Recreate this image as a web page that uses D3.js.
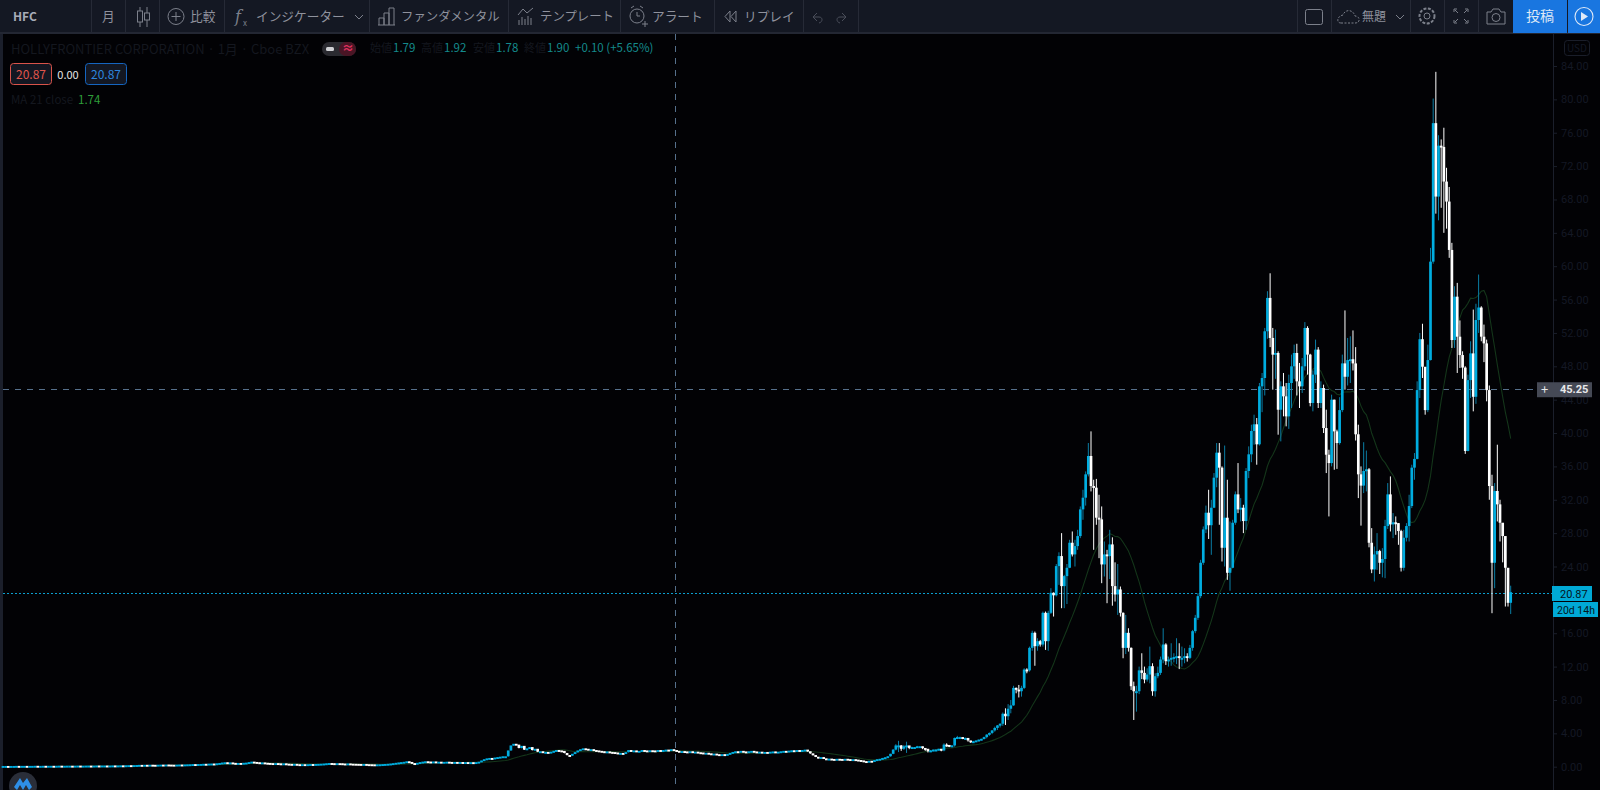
<!DOCTYPE html>
<html><head><meta charset="utf-8">
<style>html,body{margin:0;padding:0;background:#020205;overflow:hidden}svg{display:block}text{font-family:"Noto Sans CJK JP","Noto Sans",sans-serif}</style>
<script src="https://cdn.jsdelivr.net/npm/d3@7/dist/d3.min.js"></script></head><body><svg id="c" width="1600" height="790"></svg>
<script>
// Flat early history: monthly closes
const earlyCloses=[.04,.04,.03,.04,.04,.05,.04,.05,.05,.04,.05,.05,.06,.05,.05,.06,.05,.06,.06,.05,.06,.07,.06,.06,.07,.07,.06,.07,.08,.07,.07,.08,.08,.07,.08,.09,.08,.09,.09,.08,.09,.10,.09,.10,.11,.10,.12,.13,.12,.14,.15,.17,.16,.18,.17,.19,.18,.17,.19,.20,.19,.21,.20,.19,.18,.20,.21,.20,.22,.23,.24,.26,.25,.27,.28,.30,.29,.32,.33,.31,.36,.40,.45,.48,.43,.46,.41,.38,.40,.38,.42,.44,.50,.56,.52,.48,.44,.46,.42,.40,.38,.36,.38,.35,.33,.35,.31,.29,.27,.29,.25,.23,.25,.24,.25,.27,.26,.28,.29,.31,.33,.36,.39,.37,.35,.37,.36,.33,.32,.34,.31,.30,.29,.28,.27,.28,.25,.24,.23,.22,.23,.24,.26,.28,.30,.33,.37,.42,.46,.50,.54,.60,.52,.38,.34,.42,.50,.56,.60,.57,.56,.58,.54,.55,.52,.53,.55,.52,.50,.52,.50,.51,.48,.50,.47,.49,.48,.50,.55,.70,.85,.95,1.0,.98,1.05,1.1,1.15,1.2,1.2,1.9,2.5,2.7,2.6,2.2,2.45,2.0,2.15,2.3,1.95,2.1,1.75,1.8,1.7,1.72,1.68,1.75,1.85,1.95,1.9,1.85,1.6,1.35,1.3,1.5,1.7,1.9,2.05,2.15,2.1,2.0,2.05,1.95,1.9,1.85,1.8,1.75,1.78,1.72,1.7,1.65,1.58,1.6,1.55,1.7,1.95,1.85,1.9,1.82,1.85,1.95,1.9,1.85,1.92,1.9,1.88,1.95,1.9,1.95,2.0,1.92,2.05,1.95,1.85,1.8,1.82,1.78,1.75,1.8,1.72,1.75,1.68,1.65,1.6,1.62,1.55,1.5,1.52,1.45,1.42,1.45,1.4,1.48,1.6,1.72,1.8,1.75,1.85,1.78,1.72,1.8,1.85,1.78,1.72,1.75,1.68,1.72,1.7,1.75,1.78,1.72,1.75,1.8,1.85,1.82,1.88,1.92,1.85,1.95,1.9,1.95,2.0,1.8,1.55,1.35,1.15,1.0,1.1,.95,.9,.92,.88,.85,.9,.88,.85,.9,.86,.82,.85,.8,.75,.7,.62,.58,.66,.6,.75,.85,.9];
// Active period: monthly close / high / low
const closes=[1.0,1.08,1.2,1.5,2.0,2.5,2.5,2.1,2.4,2.5,2.2,2.3,2.3,2.4,2.4,2.2,2.1,1.8,1.9,2.0,2.0,2.1,1.9,2.6,2.56,2.5,2.5,3.4,3.5,3.5,3.4,3.4,3.1,3.0,3.0,3.1,3.2,3.3,3.5,3.8,4.0,4.3,4.6,4.9,5.1,6.3,6.0,6.9,7.3,
9.4,9.2,9.0,9.4,11.6,11.5,14.2,16,14.4,15,14.6,18.4,15,18.4,20.8,20.5,24,25.2,21.6,22.8,23.8,26.8,25.4,26.4,27.6,30.8,32.2,35,37.2,33.6,33.4,29.8,29.6,24.2,25.4,25.2,26.6,21.6,20.6,21.2,18.4,14.2,16,14.2,9.6,9,9,11.5,11.2,10.4,11,12,9,10.8,11.2,12.8,14.6,12.6,12.8,13,13.1,13.2,13,13,13.2,13,14.2,16.2,17.8,20.4,24.4,28.4,30.4,28.9,31,34.6,37.6,35.8,26.2,29.8,23.2,23.8,29.2,32.6,30.8,31,29.4,35.4,37.4,40.2,41,38.6,
45.55,46.55,52.15,56.15,51.35,49.35,49.55,42.75,45.55,44.35,41.95,45.95,47.95,49.55,46.15,45.55,47.95,52.55,49.35,43.55,46.95,49.95,43.55,45.35,40.55,37.35,36.35,43.95,40.15,38.75,
42.7,48.3,46.7,48.7,48.8,48.3,39.8,35,33.65,35.4,35.6,26.8,23.6,25.4,25.8,24.4,24.85,28.8,32.6,29,29.25,29.15,28.2,23.8,27.4,28.8,31.2,35.8,36.85,45.1,51.2,47.9,42.7,48.7,60.5,77.1,68.3,74.4,74.25,70.1,67.7,61.9,51.1,56.3,51.5,49.3,47.8,37.8,46.3,49.5,44.3,53.5,55,51.5,50.7,45.1,33.6,24.4,33,31.4,29.2,27.6,23.8,19.6,20.87];
const highs=[1.05,1.12,1.25,1.55,2.1,2.7,3.1,2.6,2.6,3.0,2.5,2.4,2.35,2.5,2.45,2.4,2.2,2.1,2.0,2.05,2.1,2.15,2.1,2.8,2.8,2.6,2.6,3.5,3.7,3.6,3.5,3.5,3.4,3.1,3.1,3.15,3.25,3.35,3.6,3.9,4.1,4.4,4.8,5.0,5.2,6.5,7.0,7.5,8.0,
9.7,9.5,9.8,9.7,11.8,11.8,14.4,16.3,16.2,15.4,15.2,18.6,18.6,18.7,21.4,20.9,24.3,25.7,28,23,24.3,27.2,28.2,27.2,28.4,31.2,33.2,35.4,38.8,40.2,34.4,34.5,32.6,31.2,27,26,28.4,27.5,24.5,24.3,21.6,18.5,18.2,16.6,14.3,10.2,9.7,12,13.6,12,11.8,14.4,12.4,11.2,12,13.2,16.6,14.8,13.2,14.8,13.6,15.4,14.8,14.4,14.2,13.6,14.6,16.4,18.2,20.8,24.8,28.8,31.3,33.2,32,35.2,38.8,38.8,36,38.5,34.4,29.4,29.6,33,36.4,32.2,31.4,35.8,38.4,41,42.2,41.8,
46,47.2,52.6,57,59.15,52.6,52.4,49.8,46.2,47.2,46,47,49.4,50.6,50.7,48.4,49,53.3,52.8,49.5,47.5,51.2,50.3,46.2,45.8,42.8,38,44.6,44,40.4,
44.3,49.4,54.7,51.4,51.6,52.3,50.3,41,36,38.9,37.9,35.8,28.6,26.4,28,26,26.2,29.6,34,34.8,30.4,30,29.2,28.4,28.4,29.2,32.6,36.2,37.6,46.2,52,53.1,47.9,50.6,62.2,80.1,83.3,75.7,75.2,76.6,71.8,69.5,62.8,57.6,58,53.5,49.8,48,47,51,54.8,55.5,59,55.2,53,51.2,45.7,35,34,38.6,32,28.4,24.5,23.8,21.7];
const lows=[.95,1.0,1.05,1.2,1.5,1.95,1.75,1.9,2.0,1.65,2.1,2.15,2.2,2.25,2.3,2.1,1.9,1.7,1.75,1.85,1.9,1.95,1.85,1.85,2.4,2.35,2.4,2.4,3.3,3.3,3.3,3.2,3.0,2.85,2.9,2.95,3.05,3.15,3.25,3.4,3.7,3.9,4.2,4.4,4.7,4.9,5.0,5.6,6.4,
7.6,8.8,8.3,8.4,9.3,11.2,11.4,13.9,12.1,13.9,14.4,14.4,14,13.9,18.3,18,20.4,21.8,19,19,19.5,23.8,25.2,24,26,27.4,29.6,31.3,34.8,33,26,29,25,22,22.8,19.6,22.5,19.3,19.8,18.2,18,13,13.5,13.8,9.2,5.6,6.6,8.7,10.5,10,10.2,10,8.5,8.4,10.6,11,12.4,12.2,12,12.1,12.5,12.3,11.7,12,12.4,12.6,12.9,13.9,16,17.6,20.2,24.2,28,27.3,25.4,31,33.5,29,24.6,24,22.4,21.1,23.8,29,30.4,29.4,28,28.4,34.6,36.5,38.6,36.2,
38.5,42.5,44.5,51.3,50.3,45.2,46.5,39.8,39,42,40.8,40.5,43,46.5,44.5,43,44.8,47.5,47,43.2,42.6,46,43,43,40,35.2,30,36,35.6,35.7,
38.6,42.5,45.2,45.7,46,47.5,39.1,32.2,28.9,32.8,33,26.3,23.2,22.2,23.6,23.1,22.7,22.6,28.5,28.2,27.4,27.8,26.6,23.4,23.5,27,27,31,34.4,37.5,44.2,46.6,42.2,42.5,59.5,60.3,66.3,65.5,67,64,64.5,61,50.2,50.2,47.2,47.8,46.5,37.5,38,44.2,42.6,43.5,52,51,48.5,43.8,32,18.4,21.4,29.4,27,24.5,19.2,19.2,18.3];
const priceTicks=[0,4,8,12,16,20,24,28,32,36,40,44,48,52,56,60,64,68,72,76,80,84];
const hiddenTickLabels=[20];
const lastPrice=20.87, crossPrice=45.25;
const maPeriod=21;
const toolbarLabels=[["HFC",13,12,"#a8acb8",700],["月",102,12.7],["比較",190,12.7],["インジケーター",256,12.7],["ファンダメンタル",401,12.4],["テンプレート",540,12.4],["アラート",652,12.7],["リプレイ",744,12.7],["無題",1362,12]];
const ohlcLabels=[["始値","1.79",370],["高値","1.92",421],["安値","1.78",473],["終値","1.90",524]];

const allCloses=earlyCloses.concat(closes);
const n=allCloses.length, offset=earlyCloses.length;
const bars=allCloses.map((c,i)=>{
  const o=i?allCloses[i-1]:c;
  const hi=i>=offset?highs[i-offset]:Math.max(o,c);
  const lo=i>=offset?lows[i-offset]:Math.min(o,c);
  return {i,o,c,h:Math.max(hi,o,c),l:Math.min(lo,o,c)};
});
const x=d3.scaleLinear().domain([0,n-1]).range([3,1510.7]);
const y=d3.scaleLinear().domain([0,84]).range([766.7,66]);
const svg=d3.select("#c");
svg.append("rect").attr("width",1600).attr("height",790).attr("fill","#020205");
svg.append("rect").attr("width",3).attr("height",790).attr("fill","#1b1f2b");

// crosshair & price line
const chart=svg.append("g");
chart.append("line").attr("x1",675.5).attr("x2",675.5).attr("y1",34).attr("y2",790).attr("stroke","#56708c").attr("stroke-dasharray","6 6");
chart.append("line").attr("x1",3).attr("x2",1537).attr("y1",Math.round(y(crossPrice))+.5).attr("y2",Math.round(y(crossPrice))+.5).attr("stroke","#56708c").attr("stroke-dasharray","6 6");
chart.append("line").attr("x1",3).attr("x2",1553).attr("y1",Math.round(y(lastPrice))+.5).attr("y2",Math.round(y(lastPrice))+.5).attr("stroke","#0a9fcf").attr("stroke-dasharray","2 2");

// MA 21
const maPts=bars.map((b,i)=>i<maPeriod-1?null:{i,v:d3.mean(allCloses.slice(i-maPeriod+1,i+1))});
chart.append("path").attr("fill","none").attr("stroke","#14351a").attr("stroke-width",1.1)
 .attr("d",d3.line().defined(d=>d).x(d=>x(d.i)).y(d=>y(d.v))(maPts));

// candles
const UP="#00ade0",DN="#ffffff",UPW="#0a7ea6";
const g=chart.append("g").selectAll("g").data(bars).join("g");
g.append("line").attr("x1",d=>x(d.i)).attr("x2",d=>x(d.i)).attr("y1",d=>y(d.h)).attr("y2",d=>y(d.l))
 .attr("stroke",d=>d.c>=d.o?UPW:DN).attr("stroke-width",1);
g.append("rect").attr("x",d=>x(d.i)-1.35).attr("width",2.7)
 .attr("y",d=>y(Math.max(d.o,d.c))-.4).attr("height",d=>Math.max(1.9,Math.abs(y(d.o)-y(d.c))))
 .attr("fill",d=>d.c>=d.o?UP:DN);

// axis
const axis=d3.axisRight(y).tickValues(priceTicks).tickSize(4).tickPadding(4)
  .tickFormat(d=>hiddenTickLabels.includes(d)?"":d3.format(".2f")(d));
const ax=svg.append("g").attr("transform","translate(1553,0)").call(axis);
ax.select(".domain").attr("stroke","#1b1f2b").attr("d","M0.5,33V790");
ax.selectAll(".tick line").attr("stroke","#1b1f2b");
ax.selectAll(".tick text").attr("fill","#141824").attr("font-size",11).style("font-family","Roboto");
svg.append("rect").attr("x",1564.5).attr("y",40.5).attr("width",25).attr("height",15).attr("rx",3).attr("fill","none").attr("stroke","#1a1e2a");
svg.append("text").attr("x",1577).attr("y",52).attr("text-anchor","middle").attr("font-size",10).attr("fill","#141824").text("USD");

// price labels
svg.append("rect").attr("x",1552).attr("y",586).attr("width",40).attr("height",15).attr("fill","#00a9d6");
svg.append("text").attr("x",1560).attr("y",597.5).attr("font-size",11).attr("fill","#04161d").style("font-family","Roboto").text("20.87");
svg.append("rect").attr("x",1553).attr("y",602).attr("width",45).attr("height",15).attr("fill","#00a9d6");
svg.append("text").attr("x",1557).attr("y",613.5).attr("font-size",10.5).attr("fill","#04161d").style("font-family","Roboto").text("20d 14h");
svg.append("rect").attr("x",1537).attr("y",y(crossPrice)-7).attr("width",55).attr("height",15).attr("fill","#454955");
svg.append("text").attr("x",1544.5).attr("y",y(crossPrice)+5).attr("text-anchor","middle").attr("font-size",13).attr("fill","#e8e8ea").text("+");
svg.append("text").attr("x",1560).attr("y",y(crossPrice)+4).attr("font-size",11).attr("font-weight",700).attr("fill","#e8e8ea").style("font-family","Roboto").text("45.25");

// legend
const leg=svg.append("g").style("font-family","Roboto");
leg.append("text").attr("x",11).attr("y",54).attr("font-size",13).attr("fill","#14171f").text("HOLLYFRONTIER CORPORATION · 1月 · Cboe BZX");
leg.append("rect").attr("x",322).attr("y",42).attr("width",34).attr("height",14).attr("rx",7).attr("fill","#2a2a30");
leg.append("rect").attr("x",339).attr("y",42).attr("width",17).attr("height",14).attr("rx",7).attr("fill","#4a1525");
leg.append("rect").attr("x",326).attr("y",47).attr("width",8).attr("height",4).attr("rx",1.5).attr("fill","#cfd0d4");
leg.append("text").attr("x",342).attr("y",53).attr("font-size",12).attr("font-weight",700).attr("fill","#e0315f").text("≈");
ohlcLabels.forEach(([a,v,px])=>{
  leg.append("text").attr("x",px).attr("y",52).attr("font-size",11).attr("fill","#14171f").text(a);
  leg.append("text").attr("x",px+23).attr("y",52).attr("font-size",11.5).attr("fill","#148a8c").text(v);
});
leg.append("text").attr("x",575).attr("y",52).attr("font-size",11.5).attr("fill","#148a8c").text("+0.10 (+5.65%)");
[[10,"#d9534a","#e0564c"],[85,"#1565c0","#2e86de"]].forEach(([px,st,tc])=>{
  leg.append("rect").attr("x",px+.5).attr("y",63.5).attr("width",41).attr("height",21).attr("rx",3).attr("fill","#131722").attr("stroke",st);
  leg.append("text").attr("x",px+21).attr("y",79).attr("text-anchor","middle").attr("font-size",12).attr("fill",tc).text("20.87");
});
leg.append("text").attr("x",68).attr("y",79).attr("text-anchor","middle").attr("font-size",11).attr("fill","#e6e6e6").text("0.00");
leg.append("text").attr("x",11).attr("y",104).attr("font-size",11.5).attr("fill","#14171f").text("MA 21 close");
leg.append("text").attr("x",78).attr("y",104).attr("font-size",11.5).attr("fill","#2e9e3a").text("1.74");

// toolbar
const tb=svg.append("g");
tb.append("rect").attr("width",1600).attr("height",33).attr("fill","#141823");
tb.append("rect").attr("y",32).attr("width",1600).attr("height",2).attr("fill","#232733");
[91,125,159,224,369,508,620,714,803,858,1297,1331,1410,1444,1478].forEach(s=>tb.append("line").attr("x1",s+.5).attr("x2",s+.5).attr("y1",0).attr("y2",32).attr("stroke","#262a36"));
toolbarLabels.forEach(([t,px,fs,col,w])=>tb.append("text").attr("x",px).attr("y",21).attr("font-size",fs).attr("fill",col||"#8f929d").attr("font-weight",w||400).text(t));
tb.append("rect").attr("x",1513).attr("width",54).attr("height",33).attr("fill","#1976e0");
tb.append("rect").attr("x",1568).attr("width",32).attr("height",33).attr("fill","#1976e0");
tb.append("text").attr("x",1540).attr("y",21).attr("text-anchor","middle").attr("font-size",14).attr("fill","#dfe9f7").text("投稿");
const ic=tb.append("g").attr("fill","none").attr("stroke","#7c808b").attr("stroke-width",1);
// candle icon
ic.append("path").attr("d","M140 7V27M147 7V27");ic.append("rect").attr("x",137.5).attr("y",11).attr("width",5).attr("height",11).attr("fill","#141823");ic.append("rect").attr("x",144.5).attr("y",13).attr("width",5).attr("height",7).attr("fill","#141823");
// compare
ic.append("circle").attr("cx",176).attr("cy",16.5).attr("r",8);ic.append("path").attr("d","M171.5 16.5H180.5M176 12V21");
// fx
tb.append("text").attr("x",235).attr("y",22).attr("font-size",16).attr("font-style","italic").attr("fill","#7c808b").style("font-family","DejaVu Serif").text("f");
tb.append("text").attr("x",243).attr("y",26).attr("font-size",8).attr("fill","#7c808b").text("x");
// chevrons
ic.append("path").attr("d","M355 15L359 19L363 15M1396 15L1400 19L1404 15");
// fundamentals
ic.append("path").attr("d","M379 25V18H384V25M384 25V13H389V25M389 25V8H394V25M378 25H395");
// templates
ic.append("path").attr("d","M518 15L523 9L527 13L533 8M519 25V20M522 25V17M525 25V19M528 25V16M531 25V18");
// alert
ic.append("circle").attr("cx",637).attr("cy",16).attr("r",7);ic.append("path").attr("d","M637 12V16H640M631 8L634 6M643 8L640 6M642 24H648M645 21V27");
// replay
ic.append("path").attr("d","M730 11L725 16.5L730 22ZM736 11L731 16.5L736 22Z");
// undo redo
ic.append("path").attr("d","M817 13L813 17L817 21M813 17H819C823 17 823 22 819 23M842 13L846 17L842 21M846 17H840C836 17 836 22 840 23").attr("stroke","#4a4e5a");
// square
ic.append("rect").attr("x",1305.5).attr("y",9.5).attr("width",17).attr("height",15).attr("rx",2);
// cloud
ic.append("path").attr("stroke-dasharray","2 1.5").attr("d","M1341 23H1355C1361 23 1360 16 1355 16C1353 9 1345 9 1343 15C1337 16 1336 23 1341 23Z");
// gear
ic.append("circle").attr("cx",1427).attr("cy",16).attr("r",3);ic.append("circle").attr("cx",1427).attr("cy",16).attr("r",7.5).attr("stroke-dasharray","3 1.5").attr("stroke-width",2);
// fullscreen
ic.append("path").attr("d","M1454 12V9H1457M1465 9H1468V12M1454 20V23H1457M1468 20V23H1465M1455 10L1458 13M1467 10L1464 13M1455 22L1458 19M1467 22L1464 19");
// camera
ic.append("path").attr("d","M1487 12H1491L1493 9H1499L1501 12H1505V24H1487Z");ic.append("circle").attr("cx",1496).attr("cy",17.5).attr("r",4);
// play
tb.append("circle").attr("cx",1584).attr("cy",16.5).attr("r",9).attr("fill","none").attr("stroke","#dfe9f7").attr("stroke-width",1.1);
tb.append("path").attr("d","M1581 12L1588 16.5L1581 21Z").attr("fill","#dfe9f7");
// logo
svg.append("circle").attr("cx",23).attr("cy",786).attr("r",14).attr("fill","#2a2e39");
svg.append("path").attr("d","M14 787L20 778L23 783L27 778L32 787L29 790L26 785L23 790L20 785L17 790Z").attr("fill","#2e8fe8");
</script></body></html>
